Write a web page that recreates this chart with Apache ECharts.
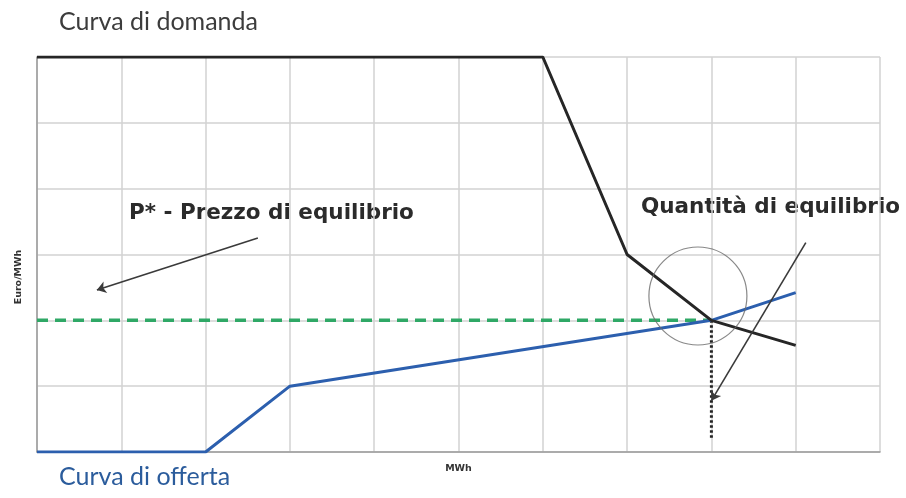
<!DOCTYPE html>
<html>
<head>
<meta charset="utf-8">
<script src="https://cdn.jsdelivr.net/npm/echarts@6/dist/echarts.min.js"></script>
<style>
  html, body { margin: 0; padding: 0; background: #fff; }
  #chart { width: 906px; height: 498px; }
</style>
</head>
<body>
<div id="chart"></div>
<script>
// Demand curve (quantity, price)
const demandCurve = [[0, 6], [6, 6], [7, 3], [8, 2], [9, 1.62]];
// Supply curve (quantity, price)
const supplyCurve = [[0, 0], [2, 0], [3, 1], [8, 2], [9, 2.42]];
// Equilibrium price level and quantity
const equilibriumPrice = [[0, 2], [8, 2]];
const equilibriumQty = [[8, 2], [8, 0.2]];
// Highlight circle around the intersection
const highlightCircle = [[7.84, 2.37]];
// Annotation arrows: [from, to]
const priceArrow = [[2.62, 3.25], [0.71, 2.46]];
const qtyArrow = [[9.12, 3.18], [8.0, 0.78]];

const chart = echarts.init(document.getElementById('chart'));

const gridColor = '#d2d2d2';

chart.setOption({
  animation: false,
  backgroundColor: '#fff',
  grid: { left: 37, right: 26, top: 57, bottom: 46 },
  xAxis: {
    type: 'value', min: 0, max: 10, interval: 1,
    name: 'MWh', nameLocation: 'middle', nameGap: 12,
    nameTextStyle: { fontFamily: 'DejaVu Sans', fontWeight: 'bold', fontSize: 9.5, color: '#333' },
    axisLine: { show: true, lineStyle: { color: '#9a9a9a', width: 1.5 } },
    axisTick: { show: false },
    axisLabel: { show: false },
    splitLine: { show: true, lineStyle: { color: gridColor, width: 1.5 } }
  },
  yAxis: {
    type: 'value', min: 0, max: 6, interval: 1,
    axisLine: { show: true, lineStyle: { color: '#9a9a9a', width: 1.5 } },
    axisTick: { show: false },
    axisLabel: { show: false },
    splitLine: { show: true, lineStyle: { color: gridColor, width: 1.5 } }
  },
  series: [
    {
      type: 'line', data: equilibriumPrice, symbol: 'none', z: 3,
      lineStyle: { color: '#2fa866', width: 3.5, type: [11, 7] }
    },
    {
      type: 'line', data: equilibriumQty, symbol: 'none', z: 3,
      lineStyle: { color: '#222', width: 3, type: [2.5, 2.5] }
    },
    {
      type: 'line', data: supplyCurve, symbol: 'none', z: 4,
      lineStyle: { color: '#2c5fae', width: 3 }
    },
    {
      type: 'line', data: demandCurve, symbol: 'none', z: 5,
      lineStyle: { color: '#262626', width: 3 }
    },
    {
      type: 'scatter', data: highlightCircle, symbol: 'circle', symbolSize: 98, z: 6,
      itemStyle: { color: 'rgba(0,0,0,0)', borderColor: '#6a6a6a', borderWidth: 1.2 }
    },
    {
      type: 'lines', coordinateSystem: 'cartesian2d', z: 6,
      symbol: ['none', 'arrow'], symbolSize: 9,
      lineStyle: { color: '#3a3a3a', width: 1.6, opacity: 1 },
      data: [{ coords: priceArrow }, { coords: qtyArrow }]
    }
  ],
  graphic: [
    {
      type: 'text', left: 59, top: 9,
      style: { text: 'Curva di domanda', font: '25px Lato', fill: '#3c3c3c' }
    },
    {
      type: 'text', left: 59, top: 464,
      style: { text: 'Curva di offerta', font: '25px Lato', fill: '#2b5c9c' }
    },
    {
      type: 'text', x: 19, y: 277, rotation: Math.PI / 2,
      style: { text: 'Euro/MWh', font: 'bold 9.5px "DejaVu Sans"', fill: '#333', align: 'center', verticalAlign: 'middle' }
    },
    {
      type: 'text', left: 129, top: 202,
      style: { text: 'P* - Prezzo di equilibrio', font: 'bold 21.5px "DejaVu Sans"', fill: '#2b2b2b' }
    },
    {
      type: 'text', left: 641, top: 196,
      style: { text: 'Quantità di equilibrio', font: 'bold 21.5px "DejaVu Sans"', fill: '#2b2b2b' }
    }
  ]
});
</script>
</body>
</html>
